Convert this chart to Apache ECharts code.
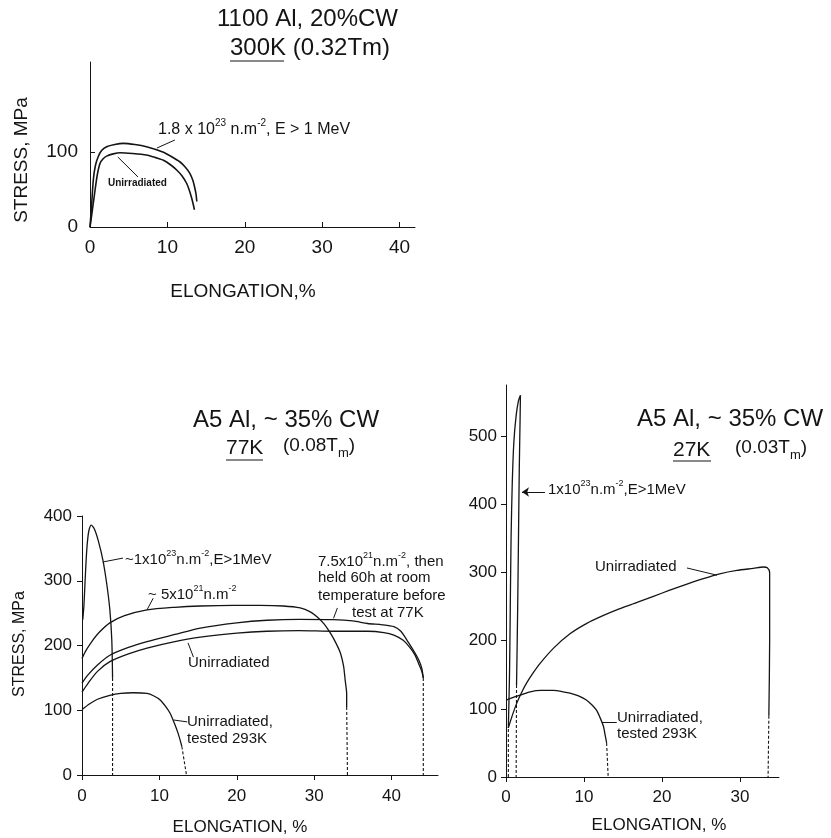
<!DOCTYPE html>
<html>
<head>
<meta charset="utf-8">
<script src="https://cdn.jsdelivr.net/npm/echarts@6/dist/echarts.min.js"></script>
<style>
  html, body { margin: 0; padding: 0; background: #fff; }
  #main { width: 831px; height: 838px; }
</style>
</head>
<body>
<div id="main"></div>
<script>
// ---- 1100 Al, 20%CW, 300K ----
const xTicks300 = [0, 10, 20, 30, 40]
const yTicks300 = [0, 100]
const irr300 = [[0, 0], [0.2, 28], [0.43, 63], [0.7, 82], [1.07, 94], [1.5, 102], [2.15, 107], [3.2, 110], [4.3, 111.5],
  [5.8, 110], [7.3, 107], [9.4, 100], [10.5, 94], [11.6, 87], [12.3, 80], [12.9, 71.5], [13.3, 62], [13.5, 54], [13.7, 44], [13.8, 34]]
const unirr300 = [[0, 0], [0.3, 22], [0.65, 49], [0.95, 70], [1.3, 85], [1.7, 91], [2.15, 94.5], [3, 97.5], [3.9, 99],
  [5.5, 98], [7.3, 96], [8.5, 92.5], [9.5, 89], [10.4, 83], [11.2, 76], [11.9, 68], [12.5, 58], [12.8, 50], [13.1, 40], [13.3, 32], [13.5, 23]]

// ---- A5 Al, ~35% CW, 77K ----
const xTicks77 = [0, 10, 20, 30, 40]
const yTicks77 = [0, 100, 200, 300, 400]
const irr23_77 = [[0.1, 240], [0.25, 262], [0.4, 300], [0.55, 335], [0.7, 360], [0.9, 378], [1.2, 386], [1.6, 380], [2.1, 362],
  [2.7, 332], [3.2, 295], [3.6, 255], [3.85, 208], [3.95, 150]]
const irr23_77Drop = [[3.95, 150], [3.95, 0]]
const irr21_77 = [[0, 180], [0.5, 192], [1.2, 205], [2.2, 220], [3.6, 235], [5.5, 246], [8.4, 255], [12, 259], [15.3, 261],
  [19.5, 262], [23, 262], [26, 261], [28.2, 258], [29.5, 252], [30.4, 244], [31.3, 233], [32.1, 219], [32.8, 204],
  [33.4, 188], [33.8, 168], [34.0, 147], [34.2, 125], [34.2, 105]]
const irr21_77Drop = [[34.2, 105], [34.3, 0]]
const held77 = [[0, 142], [0.8, 155], [2, 170], [3.6, 185], [6, 197], [8.4, 206], [12, 217], [15.3, 227], [20, 235], [23.9, 239],
  [28, 240.5], [32.5, 240], [35, 238], [36.9, 234], [38.8, 232], [40.3, 229], [41.2, 222], [42, 208], [42.8, 193],
  [43.5, 178], [43.9, 165], [44.1, 150]]
const unirr77 = [[0, 128], [0.8, 142], [2, 160], [3.6, 175], [6, 187], [8.4, 196], [12, 206], [15.3, 213], [20, 219], [23.9, 222],
  [28, 223], [32.5, 222], [36.9, 222], [39, 220], [40.3, 216], [41.5, 208], [42.3, 198], [43, 186], [43.5, 172],
  [43.9, 160], [44.1, 150]]
const end77Drop = [[44.1, 150], [44.1, 0]]
const rt77 = [[0, 101], [1, 110], [2, 117], [3.6, 123], [5, 126], [6.6, 127], [8.4, 126], [9.3, 122], [10.1, 116], [10.8, 106],
  [11.4, 95], [11.9, 81], [12.4, 65], [12.7, 53], [12.9, 44]]
const rt77Drop = [[12.9, 44], [13.5, 0]]

// ---- A5 Al, ~35% CW, 27K ----
const xTicks27 = [0, 10, 20, 30]
const yTicks27 = [0, 100, 200, 300, 400, 500]
const irr27 = [[0.3, 72], [0.45, 150], [0.55, 250], [0.65, 350], [0.8, 430], [1.0, 490], [1.3, 530], [1.6, 552], [1.85, 560],
  [1.8, 520], [1.7, 450], [1.6, 350], [1.5, 250], [1.4, 170], [1.35, 135]]
const irr27Drop = [[1.35, 135], [1.3, 0]]
const unirr27Rise = [[0.3, 0], [0.3, 72]]
const unirr27 = [[0.3, 72], [0.8, 90], [1.37, 108], [2, 124], [2.65, 138], [3.5, 153], [4.4, 167], [6.1, 189], [8.2, 210],
  [10.3, 225], [12.5, 237], [14.6, 247], [16.8, 256], [18.9, 265], [21.0, 274], [23.2, 283], [25.3, 291], [27.4, 298],
  [29.6, 303], [31.7, 306], [33.0, 308], [33.5, 307], [33.8, 300], [33.8, 200], [33.7, 90]]
const unirr27Drop = [[33.7, 90], [33.6, 0]]
const rt27 = [[0.1, 113], [1, 117], [1.8, 120], [3.1, 125], [4.5, 127], [6.1, 127], [7.3, 125], [8.2, 123], [9.3, 119],
  [10.3, 113], [11, 106], [11.6, 98], [12.1, 86], [12.5, 74], [12.7, 62], [12.9, 50]]
const rt27Drop = [[12.9, 50], [13.1, 0]]

const FONT = "'Liberation Sans', Arial, sans-serif"
const INK = '#141414'

function leader (pairs, arrow) {
  return {
    silent: true,
    animation: false,
    symbol: arrow ? ['none', 'arrow'] : ['none', 'none'],
    symbolSize: 7,
    lineStyle: { color: INK, width: 1, type: 'solid' },
    label: { show: false },
    emphasis: { disabled: true },
    data: pairs.map(p => [{ coord: p[0] }, { coord: p[1] }])
  }
}

function curve (data, idx, dashed, extra) {
  return Object.assign({
    type: 'line',
    data: data,
    xAxisIndex: idx,
    yAxisIndex: idx,
    symbol: 'none',
    smooth: dashed ? false : 0.25,
    silent: true,
    animation: false,
    lineStyle: { color: INK, width: dashed ? 1.1 : 1.3, type: dashed ? [3, 2] : 'solid' }
  }, extra || {})
}

function xAxisOf (idx, max, ticks, size, margin, inside) {
  return {
    gridIndex: idx,
    type: 'value',
    min: 0,
    max: max,
    interval: 10,
    axisLine: { onZero: false, lineStyle: { color: INK, width: 1 } },
    axisTick: { customValues: ticks, inside: inside, length: 5, lineStyle: { color: INK } },
    axisLabel: { customValues: ticks, color: INK, fontSize: size, fontFamily: FONT, margin: margin },
    splitLine: { show: false }
  }
}

function yAxisOf (idx, max, ticks, size, margin, inside) {
  return {
    gridIndex: idx,
    type: 'value',
    min: 0,
    max: max,
    interval: 100,
    axisLine: { show: true, onZero: false, lineStyle: { color: INK, width: 1 } },
    axisTick: { show: true, customValues: ticks, inside: inside, length: 5, lineStyle: { color: INK } },
    axisLabel: { customValues: ticks, color: INK, fontSize: size, fontFamily: FONT, margin: margin },
    splitLine: { show: false }
  }
}

function txt (x, y, text, size, extra, rotation) {
  return {
    type: 'text',
    x: x,
    y: y,
    rotation: rotation || 0,
    silent: true,
    style: Object.assign({ text: text, fontSize: size, fontFamily: FONT, fill: INK, align: 'left', verticalAlign: 'middle' }, extra || {})
  }
}

function supText (x, y, parts, size) {
  // parts: [text, sup, text, sup, ...]
  const s = parts.map((p, i) => (i % 2 === 0 ? '{n|' : '{s|') + p + '}').join('')
  return txt(x, y, s, size, {
    rich: {
      n: { fontSize: size, fontFamily: FONT, fill: INK, lineHeight: size + 3, verticalAlign: 'bottom' },
      s: { fontSize: Math.round(size * 0.62), fontFamily: FONT, fill: INK, verticalAlign: 'top' }
    }
  })
}

function subText (x, y, before, sub, after, size) {
  return txt(x, y, '{n|' + before + '}{b|' + sub + '}{n|' + after + '}', size, {
    rich: {
      n: { fontSize: size, fontFamily: FONT, fill: INK, lineHeight: size + 4, verticalAlign: 'top' },
      b: { fontSize: Math.round(size * 0.68), fontFamily: FONT, fill: INK, verticalAlign: 'bottom' }
    }
  })
}

function uline (x1, x2, y) {
  return { type: 'line', silent: true, shape: { x1: x1, y1: y, x2: x2, y2: y }, style: { stroke: INK, lineWidth: 1.2 } }
}

const myChart = echarts.init(document.getElementById('main'))

const option = {
  backgroundColor: '#fff',
  animation: false,
  grid: [
    { left: 90, top: 62, width: 325, height: 165 },
    { left: 82, top: 516, width: 356, height: 259 },
    { left: 506, top: 385, width: 273, height: 392 }
  ],
  xAxis: [
    xAxisOf(0, 42, xTicks300, 19, 11, true),
    xAxisOf(1, 46, xTicks77, 17, 13, false),
    xAxisOf(2, 35, xTicks27, 17, 12, false)
  ],
  yAxis: [
    yAxisOf(0, 220, yTicks300, 19, 12, true),
    yAxisOf(1, 400, yTicks77, 17, 10, false),
    yAxisOf(2, 575, yTicks27, 17, 9, false)
  ],
  series: [
    curve(irr300, 0, false, {
      lineStyle: { color: INK, width: 1.6 },
      markLine: leader([[[8.65, 105.3], [10.97, 116]], [[3.6, 93.3], [6.2, 66.7]]])
    }),
    curve(unirr300, 0, false, { lineStyle: { color: INK, width: 1.6 } }),

    curve(irr23_77, 1, false, {
      markLine: leader([[[2.7, 329], [5.3, 335]], [[8.4, 255], [9.2, 273]], [[32.5, 242], [33.0, 258]],
        [[13.7, 204], [14.4, 182]], [[11.8, 85], [13.6, 82]]])
    }),
    curve(irr23_77Drop, 1, true),
    curve(irr21_77, 1, false),
    curve(irr21_77Drop, 1, true),
    curve(held77, 1, false),
    curve(unirr77, 1, false),
    curve(end77Drop, 1, true),
    curve(rt77, 1, false),
    curve(rt77Drop, 1, true),

    curve(irr27, 2, false, {
      markLine: leader([[[5.0, 418], [2.05, 418]]], true)
    }),
    curve(irr27Drop, 2, true),
    curve(unirr27Rise, 2, true),
    curve(unirr27, 2, false, {
      markLine: leader([[[23.2, 306.6], [27.05, 296]], [[12.3, 80.7], [14.2, 80.7]]])
    }),
    curve(unirr27Drop, 2, true),
    curve(rt27, 2, false),
    curve(rt27Drop, 2, true)
  ],
  graphic: [
    // top chart
    txt(217, 19, '1100 Al, 20%CW', 24),
    txt(230, 48, '300K (0.32Tm)', 24),
    uline(230, 284, 61),
    supText(158, 128, ['1.8 x 10', '23', ' n.m', '-2', ', E > 1 MeV'], 16),
    txt(108, 183, 'Unirradiated', 10, { fontWeight: 'bold' }),
    txt(22, 160, 'STRESS, MPa', 19, { align: 'center' }, Math.PI / 2),
    txt(243, 292, 'ELONGATION,%', 19, { align: 'center' }),

    // bottom-left chart
    txt(193, 420, 'A5 Al, ~ 35% CW', 24),
    txt(226, 448, '77K', 21),
    uline(226, 263, 460),
    subText(283, 448, '(0.08T', 'm', ')', 19),
    supText(125, 558, ['~1x10', '23', 'n.m', '-2', ',E>1MeV'], 15),
    supText(148, 593, ['~ 5x10', '21', 'n.m', '-2', ''], 15),
    supText(318, 560, ['7.5x10', '21', 'n.m', '-2', ', then'], 15),
    txt(318, 578, 'held 60h at room', 15),
    txt(318, 596, 'temperature before', 15),
    txt(352, 613, 'test at 77K', 15),
    txt(188, 663, 'Unirradiated', 15),
    txt(187, 722, 'Unirradiated,', 15),
    txt(187, 739, 'tested 293K', 15),
    txt(20, 644, 'STRESS, MPa', 16, { align: 'center' }, Math.PI / 2),
    txt(240, 827, 'ELONGATION, %', 17, { align: 'center' }),

    // bottom-right chart
    txt(637, 419, 'A5 Al, ~ 35% CW', 24),
    txt(673, 450, '27K', 21),
    uline(673, 711, 461),
    subText(735, 450, '(0.03T', 'm', ')', 19),
    supText(548, 488, ['1x10', '23', 'n.m', '-2', ',E>1MeV'], 15),
    txt(595, 567, 'Unirradiated', 15),
    txt(617, 718, 'Unirradiated,', 15),
    txt(617, 734, 'tested 293K', 15),
    txt(659, 825, 'ELONGATION, %', 17, { align: 'center' })
  ]
}

myChart.setOption(option)
</script>
</body>
</html>
